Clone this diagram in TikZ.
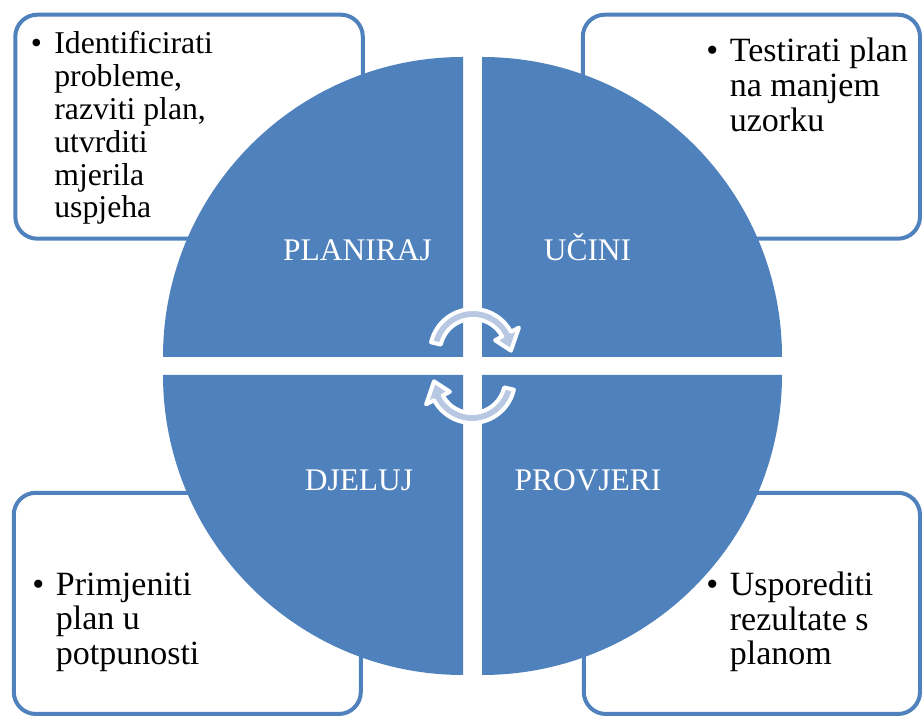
\documentclass[tikz,border=0pt]{standalone}
\usepackage{fontspec}
\setmainfont{Liberation Serif}
\newfontfamily\boxfont{Liberation Serif}
\usetikzlibrary{calc}
\definecolor{accent}{HTML}{4F81BD}
\definecolor{arrowfill}{HTML}{B9C8E2}
\newcommand\bulcol{\makebox[17.7pt][l]{\textbullet}}
\begin{document}
\begin{tikzpicture}[x=0.75pt,y=0.75pt,
  infobox/.style={draw=accent, line width=3pt, fill=white, rounded corners=16.5pt},
  quad/.style={fill=accent},
  phase/.style={text=white, font=\boxfont\fontsize{23.6pt}{28pt}\selectfont, anchor=base, inner sep=0pt},
  bultext/.style={anchor=base west, inner sep=0pt, text=black},
  cyc/.style={fill=arrowfill, draw=white, line width=3pt, line join=round}]
\useasboundingbox (0,0) rectangle (922,716);

% info boxes
\draw[infobox] (15.3,477.3) rectangle (362.8,701.3);
\draw[infobox] (582.8,477.3) rectangle (920,701.3);
\draw[infobox] (13.8,2) rectangle (360.8,223.2);
\draw[infobox] (583.8,2) rectangle (920,223.2);

% quadrants
\fill[quad] (463,359) -- ++(180:300) arc[start angle=180,end angle=90,radius=300] -- cycle;
\fill[quad] (482,359) -- ++(90:300) arc[start angle=90,end angle=0,radius=300] -- cycle;
\fill[quad] (463,341) -- ++(180:300) arc[start angle=180,end angle=270,radius=300] -- cycle;
\fill[quad] (482,341) -- ++(0:300) arc[start angle=0,end angle=-90,radius=300] -- cycle;

% phase labels
\node[phase] (plan) at (357.5,455) {PLANIRAJ};
\node[phase] (do) at (587.5,455) {UČINI};
\node[phase] (act) at (359,225) {DJELUJ};
\node[phase] (check) at (588,225) {PROVJERI};

% cycle arrows
\begin{scope}[shift={(473,364)}]
\draw[cyc] (167:43) arc[start angle=167,end angle=28,radius=43] -- (28:52) -- (2:38) -- (28:25) -- (28:33) arc[start angle=28,end angle=167,radius=33] -- cycle;
\end{scope}
\begin{scope}[shift={(472,336)},rotate=180]
\draw[cyc] (167:43) arc[start angle=167,end angle=28,radius=43] -- (28:52) -- (2:38) -- (28:25) -- (28:33) arc[start angle=28,end angle=167,radius=33] -- cycle;
\end{scope}

% box texts
\node[bultext, font=\boxfont\fontsize{23.8pt}{24.6pt}\selectfont] (tltext) at (30.5,662) {%
  \begin{tabular}[t]{@{}l@{}l@{}}
  \bulcol & Identificirati\\ & probleme,\\ & razviti plan,\\ & utvrditi\\ & mjerila\\ & uspjeha
  \end{tabular}};
\node[bultext, font=\boxfont\fontsize{25.5pt}{26pt}\selectfont] (trtext) at (706,654.3) {%
  \begin{tabular}[t]{@{}l@{}l@{}}
  \bulcol & Testirati plan\\ & na manjem\\ & uzorku
  \end{tabular}};
\node[bultext, font=\boxfont\fontsize{25.5pt}{25.7pt}\selectfont] (bltext) at (32,120.3) {%
  \begin{tabular}[t]{@{}l@{}l@{}}
  \bulcol & Primjeniti\\ & plan u\\ & potpunosti
  \end{tabular}};
\node[bultext, font=\boxfont\fontsize{25.5pt}{25.7pt}\selectfont] (brtext) at (706,120) {%
  \begin{tabular}[t]{@{}l@{}l@{}}
  \bulcol & Usporediti\\ & rezultate s\\ & planom
  \end{tabular}};
\end{tikzpicture}
\end{document}
